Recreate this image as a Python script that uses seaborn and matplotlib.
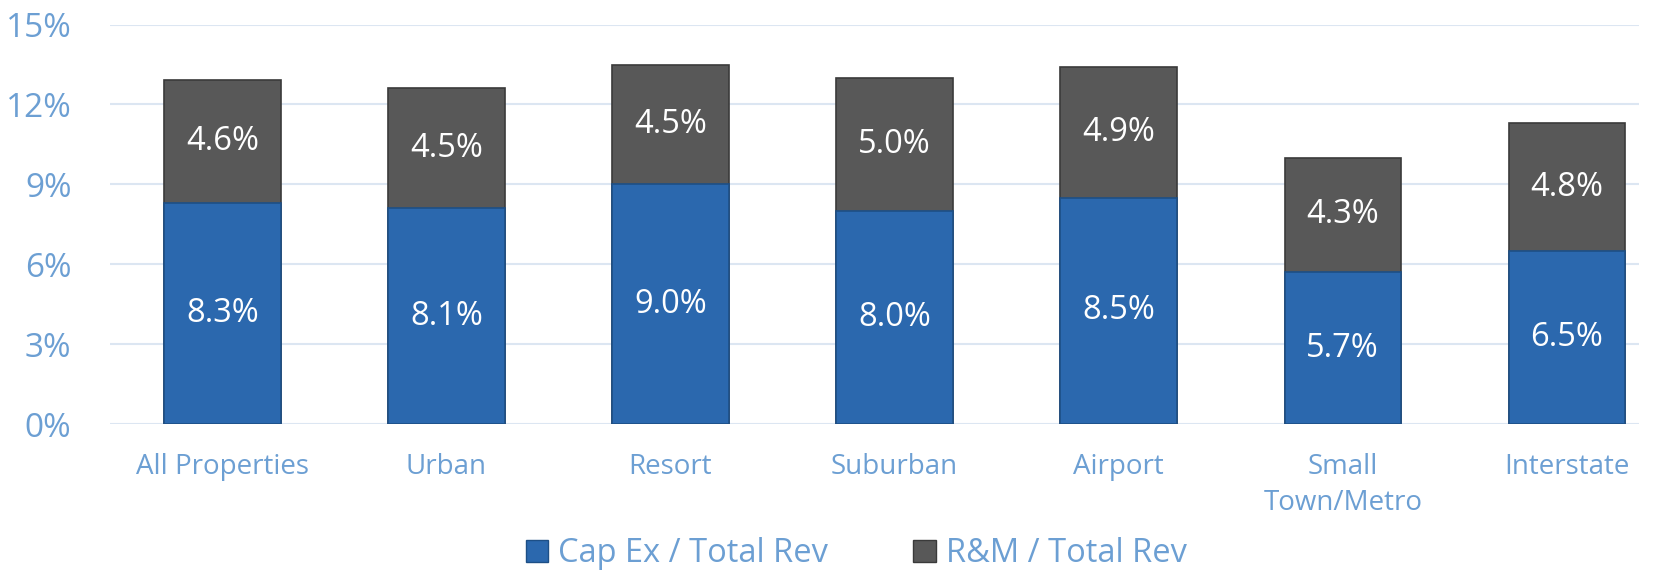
import pandas as pd
import seaborn as sns
import matplotlib.pyplot as plt
from matplotlib.patches import Patch

categories = ['All Properties', 'Urban', 'Resort', 'Suburban', 'Airport', 'Small\nTown/Metro', 'Interstate']
capex = [8.3, 8.1, 9.0, 8.0, 8.5, 5.7, 6.5]
rm = [4.6, 4.5, 4.5, 5.0, 4.9, 4.3, 4.8]
series_names = ['Cap Ex / Total Rev', 'R&M / Total Rev']

df = pd.DataFrame({'cat': categories, 'capex': capex, 'rm': rm})
df['total'] = df['capex'] + df['rm']

blue = '#2B68AE'
gray = '#585858'
txt = '#6C9FD3'

sns.set_style('white')
plt.rcParams['font.family'] = ['Open Sans', 'DejaVu Sans']

fig = plt.figure(figsize=(16.72, 5.71), dpi=100)
ax = fig.add_axes([0.066, 0.2574, 0.914, 0.6996])

# stacked look: total in gray, cap ex in blue over it
sns.barplot(data=df, x='cat', y='total', color=gray, width=0.52, ax=ax,
            edgecolor='#3a3a3a', linewidth=1.2, saturation=1, zorder=3)
sns.barplot(data=df, x='cat', y='capex', color=blue, width=0.52, ax=ax,
            edgecolor='#1d4f86', linewidth=1.2, saturation=1, zorder=4)

# segment labels
for i, row in df.iterrows():
    ax.text(i, row['capex'] / 2, f"{row['capex']:.1f}%", ha='center', va='center',
            color='white', fontsize=23.5, zorder=5)
    ax.text(i, row['capex'] + row['rm'] / 2, f"{row['rm']:.1f}%", ha='center', va='center',
            color='white', fontsize=23.5, zorder=5)

ax.set_ylim(0, 15)
ax.set_xlim(-0.5, 6.32)
ax.set_yticks([0, 3, 6, 9, 12, 15])
ax.set_yticklabels([f'{v}%' for v in [0, 3, 6, 9, 12, 15]])
ax.grid(axis='y', color='#DCE6F2', linewidth=1.5, zorder=0)
ax.set_axisbelow(True)
for s in ax.spines.values():
    s.set_visible(False)
ax.tick_params(axis='y', colors=txt, labelsize=24, length=0, pad=28)
ax.tick_params(axis='x', colors=txt, labelsize=20, length=0, pad=21)
for lab in ax.get_xticklabels():
    lab.set_linespacing(1.35)
ax.set_xlabel('')
ax.set_ylabel('')

handles = [Patch(facecolor=blue, edgecolor='#1d4f86'), Patch(facecolor=gray, edgecolor='#3a3a3a')]
leg = fig.legend(handles, series_names, loc='center', bbox_to_anchor=(0.512, 0.03), ncol=2,
                 frameon=False, fontsize=23.5, handlelength=0.7, handleheight=0.7,
                 handletextpad=0.3, columnspacing=2.6)
for t in leg.get_texts():
    t.set_color(txt)

fig.savefig('out.png', dpi=100)
